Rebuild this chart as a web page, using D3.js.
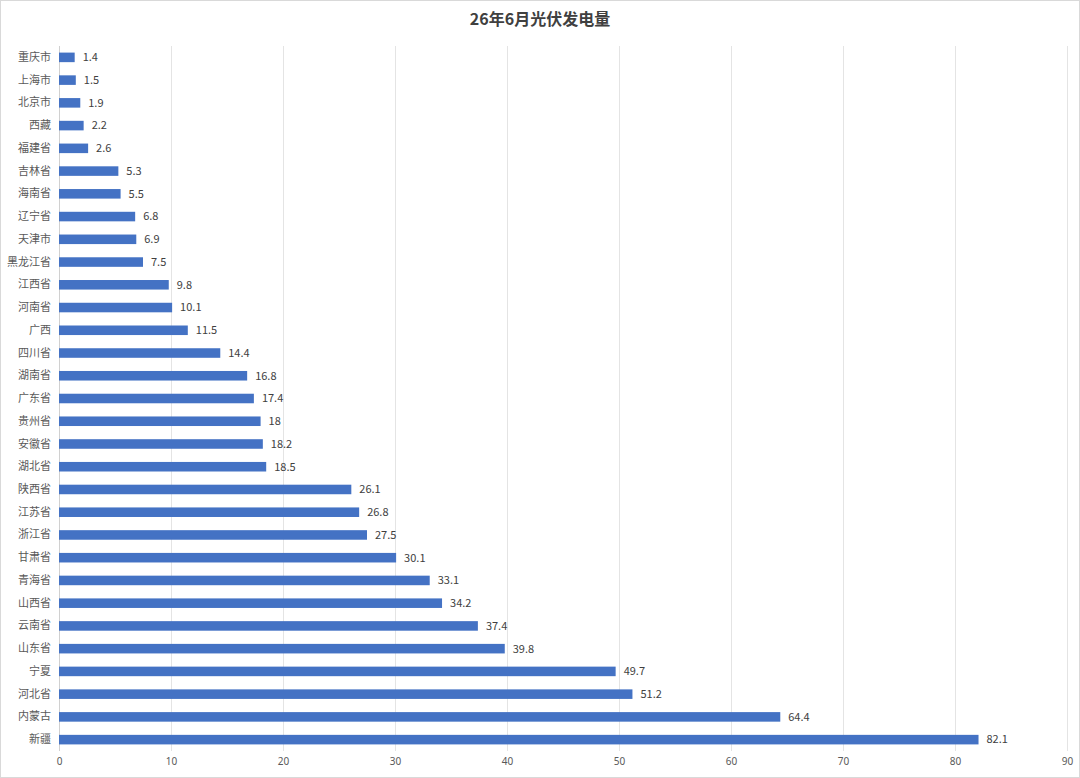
<!DOCTYPE html>
<html>
<head>
<meta charset="utf-8">
<script src="https://cdn.jsdelivr.net/npm/d3@7"></script>
<style>
  body { margin: 0; background: #fff; }
  svg { display: block; font-family: "Noto Sans CJK SC", "Noto Sans", sans-serif; }
</style>
</head>
<body>
<div class="chart"></div>
<script>
// data
let provinces = ['重庆市', '上海市', '北京市', '西藏', '福建省', '吉林省', '海南省', '辽宁省', '天津市', '黑龙江省',
  '江西省', '河南省', '广西', '四川省', '湖南省', '广东省', '贵州省', '安徽省', '湖北省', '陕西省',
  '江苏省', '浙江省', '甘肃省', '青海省', '山西省', '云南省', '山东省', '宁夏', '河北省', '内蒙古', '新疆'];
let output = [1.4, 1.5, 1.9, 2.2, 2.6, 5.3, 5.5, 6.8, 6.9, 7.5,
  9.8, 10.1, 11.5, 14.4, 16.8, 17.4, 18, 18.2, 18.5, 26.1,
  26.8, 27.5, 30.1, 33.1, 34.2, 37.4, 39.8, 49.7, 51.2, 64.4, 82.1];
let xTicks = [0, 10, 20, 30, 40, 50, 60, 70, 80, 90];
let title = '26年6月光伏发电量';

// sizes
let w = 1080;
let h = 778;
let plotLeft = 59, plotRight = 1067, plotTop = 46, plotBottom = 751;

let svg = d3.select('.chart')
  .append('svg')
  .attr('width', w)
  .attr('height', h);

// outer frame
svg.append('rect')
  .attr('x', 0.5).attr('y', 0.5)
  .attr('width', w - 1).attr('height', h - 1)
  .attr('fill', '#fff')
  .attr('stroke', '#d9d9d9');

let xScale = d3.scaleLinear()
  .domain([0, 90])
  .range([plotLeft, plotRight]);

let yScale = d3.scaleBand()
  .domain(provinces)
  .range([plotTop, plotBottom])
  .paddingInner(0.58)
  .paddingOuter(0.29);

// vertical grid
svg.append('g')
  .selectAll('line')
  .data(xTicks)
  .enter()
  .append('line')
  .attr('x1', d => xScale(d) + 0.5)
  .attr('x2', d => xScale(d) + 0.5)
  .attr('y1', plotTop)
  .attr('y2', plotBottom)
  .attr('stroke', d => d === 0 ? '#d0d0d0' : '#e4e4e4')
  .attr('stroke-width', 1);

// bars
svg.append('g')
  .selectAll('rect')
  .data(output)
  .enter()
  .append('rect')
  .attr('x', xScale(0))
  .attr('y', (d, i) => yScale(provinces[i]))
  .attr('width', d => xScale(d) - xScale(0))
  .attr('height', yScale.bandwidth())
  .style('fill', '#4472c4');

// value labels
svg.append('g')
  .selectAll('text')
  .data(output)
  .enter()
  .append('text')
  .attr('x', d => xScale(d) + 8)
  .attr('y', (d, i) => yScale(provinces[i]) + yScale.bandwidth() / 2)
  .attr('dy', '0.35em')
  .attr('font-size', 11)
  .attr('fill', '#404040')
  .text(d => d);

// y axis labels
let yAxis = d3.axisLeft(yScale).tickSize(0).tickPadding(8);
svg.append('g')
  .attr('transform', 'translate(' + plotLeft + ',0)')
  .call(yAxis)
  .call(g => g.select('.domain').remove())
  .call(g => g.selectAll('text').attr('font-size', 11).attr('fill', '#595959').style('font-family', '"Noto Sans CJK SC", sans-serif'));

// x axis labels
let xAxis = d3.axisBottom(xScale).tickValues(xTicks).tickSize(0).tickPadding(7);
svg.append('g')
  .attr('transform', 'translate(0,' + plotBottom + ')')
  .call(xAxis)
  .call(g => g.select('.domain').remove())
  .call(g => g.selectAll('text').attr('font-size', 10).attr('fill', '#595959').style('font-family', '"Noto Sans", sans-serif'));

// title
svg.append('text')
  .attr('x', w / 2)
  .attr('y', 25)
  .attr('text-anchor', 'middle')
  .attr('font-size', 16)
  .attr('font-weight', 'bold')
  .attr('fill', '#404040')
  .text(title);
</script>
</body>
</html>
